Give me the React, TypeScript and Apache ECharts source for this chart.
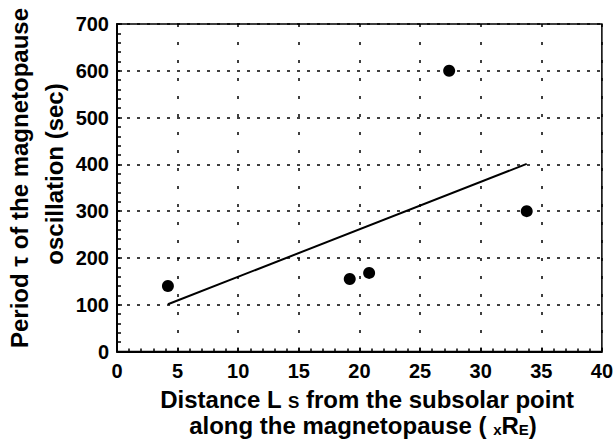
import React, { useEffect, useRef } from "react";
import * as echarts from "echarts";

// Data
const pointX = [4.2, 19.2, 20.8, 27.4, 33.8];
const pointY = [140, 155, 168, 600, 300];
const fitX = [4.2, 33.8];
const fitY = [101, 401];

const FONT = "'Liberation Sans', Arial, Helvetica, sans-serif";

export default function App() {
  const ref = useRef<HTMLDivElement>(null);
  useEffect(() => {
    if (!ref.current) return;
    const chart = echarts.init(ref.current, undefined, { renderer: "svg" });
    const scatterData = pointX.map((x, i) => [x, pointY[i]]);
    const lineData = fitX.map((x, i) => [x, fitY[i]]);
    chart.setOption({
      animation: false,
      backgroundColor: "#fff",
      grid: {
        left: 117,
        right: 13,
        top: 24,
        bottom: 88.5,
        show: true,
        borderColor: "#000",
        borderWidth: 1.5,
        backgroundColor: "transparent",
      },
      xAxis: {
        type: "value",
        min: 0,
        max: 40,
        interval: 5,
        axisLine: { show: true, onZero: false, lineStyle: { color: "#000", width: 2 } },
        axisTick: { show: true, inside: true, length: 4, lineStyle: { color: "#000", width: 1.5 } },
        minorTick: { show: true, splitNumber: 5, length: 3, lineStyle: { color: "#000", width: 1.5 } },
        axisLabel: {
          color: "#000",
          fontFamily: FONT,
          fontWeight: "bold",
          fontSize: 20,
          margin: 9,
        },
        splitLine: {
          show: true,
          lineStyle: { color: "#000", width: 1.5, type: [3, 15] },
        },
      },
      yAxis: {
        type: "value",
        min: 0,
        max: 700,
        interval: 100,
        axisLine: { show: true, onZero: false, lineStyle: { color: "#000", width: 2 } },
        axisTick: { show: true, inside: true, length: 5, lineStyle: { color: "#000", width: 1.5 } },
        minorTick: { show: true, splitNumber: 5, length: 4, lineStyle: { color: "#000", width: 1.5 } },
        axisLabel: {
          color: "#000",
          fontFamily: FONT,
          fontWeight: "bold",
          fontSize: 20,
          margin: 8,
        },
        splitLine: {
          show: true,
          lineStyle: { color: "#000", width: 1.5, type: [3, 7] },
        },
      },
      series: [
        {
          type: "line",
          data: lineData,
          showSymbol: false,
          symbol: "none",
          lineStyle: { color: "#000", width: 2 },
          z: 3,
        },
        {
          type: "scatter",
          data: scatterData,
          symbol: "circle",
          symbolSize: 12,
          itemStyle: { color: "#000", opacity: 1 },
          z: 4,
        },
      ],
      graphic: [
        {
          type: "text",
          x: 19,
          y: 178,
          rotation: Math.PI / 2,
          style: {
            text: "Period \u03c4 of the magnetopause",
            font: `bold 24px ${FONT}`,
            fill: "#000",
            align: "center",
            verticalAlign: "middle",
          },
        },
        {
          type: "text",
          x: 54,
          y: 174,
          rotation: Math.PI / 2,
          style: {
            text: "oscillation (sec)",
            font: `bold 24px ${FONT}`,
            fill: "#000",
            align: "center",
            verticalAlign: "middle",
          },
        },
        {
          type: "text",
          x: 367,
          y: 399,
          style: {
            text: "Distance L {sub|S} from the subsolar point",
            font: `bold 24px ${FONT}`,
            fill: "#000",
            align: "center",
            verticalAlign: "middle",
            lineHeight: 24,
            rich: {
              sub: {
                font: `bold 17px ${FONT}`,
                fill: "#000",
                verticalAlign: "bottom",
                lineHeight: 20,
              },
            },
          },
        },
        {
          type: "text",
          x: 363,
          y: 425,
          style: {
            text: "along the magnetopause ( {sub|x}R{sub|E})",
            font: `bold 24px ${FONT}`,
            fill: "#000",
            align: "center",
            verticalAlign: "middle",
            lineHeight: 24,
            rich: {
              sub: {
                font: `bold 15px ${FONT}`,
                fill: "#000",
                verticalAlign: "bottom",
                lineHeight: 18,
              },
            },
          },
        },
      ],
    });
    return () => chart.dispose();
  }, []);
  return (
    <div
      ref={ref}
      style={{ position: "fixed", left: 0, top: 0, width: 616, height: 440 }}
    />
  );
}
